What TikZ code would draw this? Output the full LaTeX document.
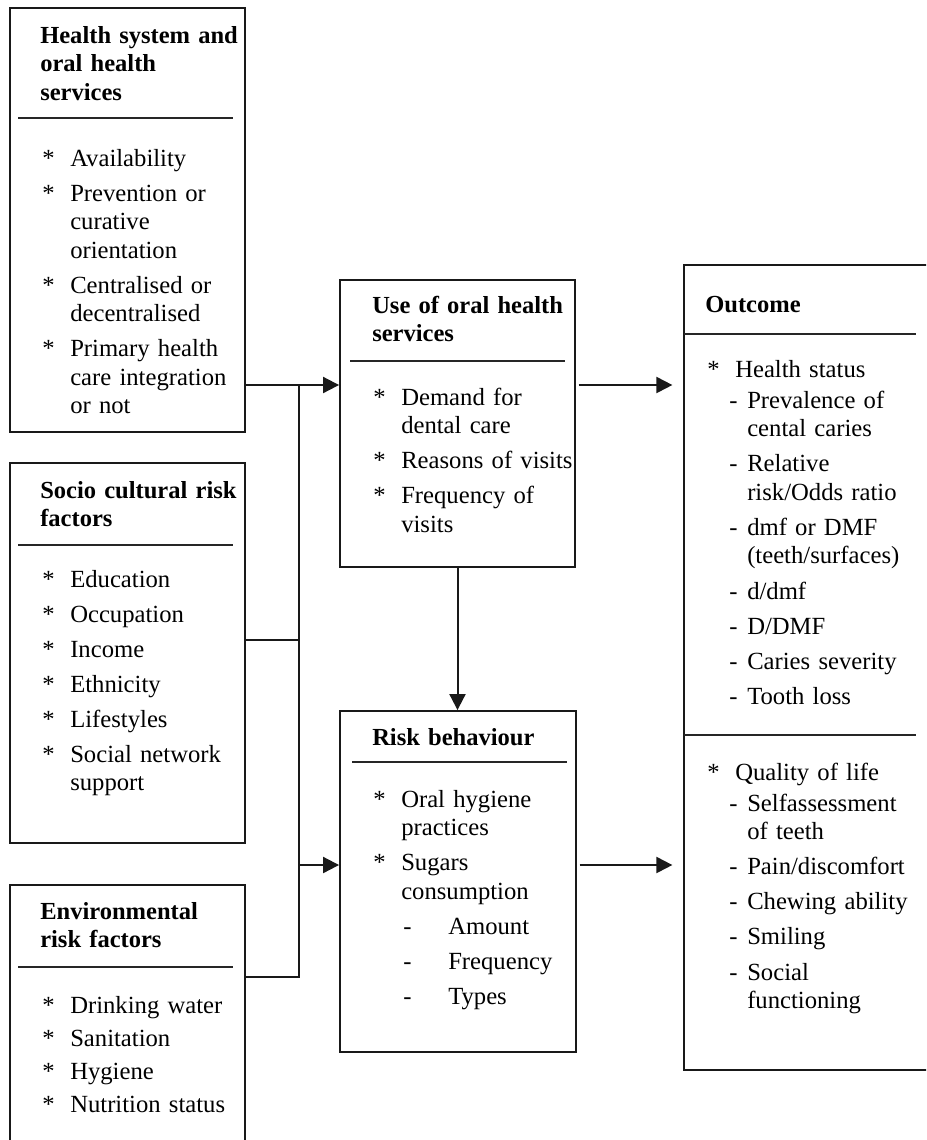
\documentclass[tikz,border=0pt]{standalone}
\usepackage{fontspec}
\setmainfont{Liberation Serif}
\usetikzlibrary{arrows.meta,fit,calc}
\newcommand{\bl}{\makebox[21pt][l]{*}}
\newcommand{\ind}{\hspace*{21pt}}
\newcommand{\rsub}{\hspace*{22.5pt}\makebox[33.75pt][l]{-}}
\newcommand{\osub}{\hspace*{16.5pt}\makebox[13.5pt][l]{-}}
\newcommand{\oind}{\hspace*{30pt}}
\begin{document}
\begin{tikzpicture}[x=0.75pt,y=-0.75pt,
  box/.style={draw=black!90, line width=1.4pt, inner sep=0pt},
  rulel/.style={draw=black!85, line width=1.7pt},
  conn/.style={draw=black!90, line width=1.5pt},
  arr/.style={conn, -{Triangle[length=12pt,width=12pt]}},
  txt/.style={anchor=base west, inner sep=0pt, text width=190pt, align=left, font=\fontsize{18.5pt}{21.4pt}\selectfont},
  hdr/.style={txt, font=\fontsize{18.4pt}{21.6pt}\selectfont\bfseries}
]
\useasboundingbox (0,0) rectangle (926,1140);
\clip (0,0) rectangle (926,1140);
\fill[white] (0,0) rectangle (926,1140);

% boxes
\node[box, fit={(10,8) (245,432)}] (hs) {};
\node[box, fit={(10,463) (245,843)}] (soc) {};
\node[box, fit={(10,885) (245,1170)}] (env) {};
\node[box, fit={(340,280) (575,567)}] (use) {};
\node[box, fit={(340,711) (576,1052)}] (risk) {};
\node[box, fit={(684,265) (960,1070)}] (out) {};

% header rules
\draw[rulel] (18,118) -- (233,118);
\draw[rulel] (18,545) -- (233,545);
\draw[rulel] (18,967) -- (233,967);
\draw[rulel] (350,361) -- (565,361);
\draw[rulel] (352,762) -- (567,762);
\draw[rulel] (684,334) -- (916,334);
\draw[rulel] (684,735) -- (916,735);

% texts
\node[hdr] (hs-h) at (40,43) {Health system and\\oral health\\services};
\node[txt] (hs-l) at (42,166) {\bl Availability\\[4.9pt]\bl Prevention or\\\ind curative\\\ind orientation\\[4.9pt]\bl Centralised or\\\ind decentralised\\[4.9pt]\bl Primary health\\\ind care integration\\\ind or not};

\node[hdr] (soc-h) at (40,498) {Socio cultural risk\\factors};
\node[txt] (soc-l) at (42,587) {\bl Education\\[4.9pt]\bl Occupation\\[4.9pt]\bl Income\\[4.9pt]\bl Ethnicity\\[4.9pt]\bl Lifestyles\\[4.9pt]\bl Social network\\\ind support};

\node[hdr] (env-h) at (40,919) {Environmental\\risk factors};
\node[txt] (env-l) at (42,1013) {\bl Drinking water\\[3.4pt]\bl Sanitation\\[3.4pt]\bl Hygiene\\[3.4pt]\bl Nutrition status};

\node[hdr] (use-h) at (372,313) {Use of oral health\\services};
\node[txt] (use-l) at (373,405) {\bl Demand for\\\ind dental care\\[4.9pt]\bl Reasons of visits\\[4.9pt]\bl Frequency of\\\ind visits};

\node[hdr] (risk-h) at (372,745) {Risk behaviour};
\node[txt] (risk-l) at (373,807) {\bl Oral hygiene\\\ind practices\\[4.9pt]\bl Sugars\\\ind consumption\\[4.9pt]\rsub Amount\\[4.9pt]\rsub Frequency\\[4.9pt]\rsub Types};

\node[hdr] (out-h) at (705,312) {Outcome};
\node[txt] (out-l1) at (707,377) {\bl Health status\\[2pt]\osub Prevalence of\\\oind cental caries\\[4.9pt]\osub Relative\\\oind risk/Odds ratio\\[4.9pt]\osub dmf or DMF\\\oind (teeth/surfaces)\\[4.9pt]\osub d/dmf\\[4.9pt]\osub D/DMF\\[4.9pt]\osub Caries severity\\[4.9pt]\osub Tooth loss};
\node[txt] (out-l2) at (707,780) {\bl Quality of life\\[2pt]\osub Selfassessment\\\oind of teeth\\[4.9pt]\osub Pain/discomfort\\[4.9pt]\osub Chewing ability\\[4.9pt]\osub Smiling\\[4.9pt]\osub Social\\\oind functioning};

% connectors
\coordinate (j1) at (299,385);
\coordinate (j2) at (299,640);
\coordinate (j3) at (299,865);
\coordinate (j4) at (299,977);
\draw[arr] (hs.east |- j1) -- (use.west |- j1);
\draw[conn] (env.east |- j4) -- (j4) -- (j1);
\draw[conn] (soc.east |- j2) -- (j2);
\draw[arr] (j3) -- (risk.west |- j3);
\draw[arr] (use.south) -- (use.south |- risk.north);
\draw[arr, shorten <=2pt, shorten >=8pt] (use.east |- j1) -- (out.west |- j1);
\draw[arr, shorten <=2pt, shorten >=8pt] (risk.east |- j3) -- (out.west |- j3);
\end{tikzpicture}
\end{document}
